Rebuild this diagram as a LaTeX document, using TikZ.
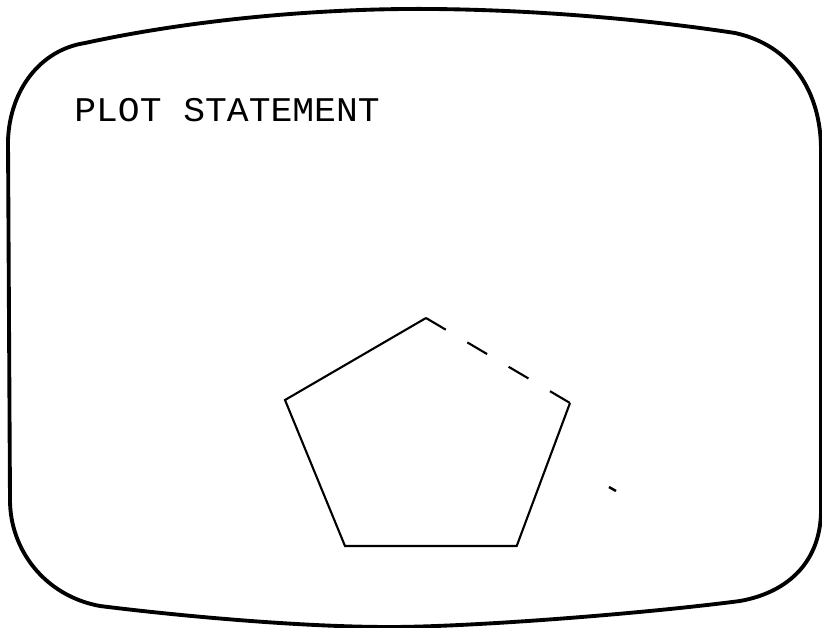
\documentclass[tikz,border=0pt]{standalone}
\usepackage{fontspec}
\newfontfamily\plotfont[FakeStretch=1.05]{Liberation Mono}
\usepackage{tikz}

\begin{document}
\begin{tikzpicture}[x=0.02cm, y=-0.02cm]
  \useasboundingbox (0,0) rectangle (822,628);
  % screen outline
  \draw[line width=2.2pt, line join=round]
    (8,140) .. controls (10,90) and (40,50) .. (85,43)
    .. controls (200,18) and (330,8) .. (433,9)
    .. controls (540,10) and (650,20) .. (735,33)
    .. controls (790,45) and (821,90) .. (821,150)
    -- (821,510)
    .. controls (821,560) and (790,592) .. (740,601)
    .. controls (640,614) and (470,627) .. (390,627)
    .. controls (300,627) and (180,616) .. (100,606)
    .. controls (45,596) and (10,550) .. (10,500)
    -- cycle;
  % caption
  \node[font=\plotfont\fontsize{19.7}{20}\selectfont, anchor=west, inner sep=0pt]
    (title) at (74,110) {PLOT STATEMENT};
  % pentagon, one side dashed
  \coordinate (top) at (426,318);
  \coordinate (right) at (570,403);
  \coordinate (lowright) at (516.7,546);
  \coordinate (lowleft) at (345,546);
  \coordinate (left) at (285,400);
  \draw[line width=1.2pt] (top) -- (left) -- (lowleft) -- (lowright) -- (right);
  \draw[line width=1.2pt, dash pattern=on 0.46cm off 0.5cm] (top) -- (right);
  % stray mark
  \draw[line width=1.4pt] (609,487) -- (616,491);
\end{tikzpicture}
\end{document}
